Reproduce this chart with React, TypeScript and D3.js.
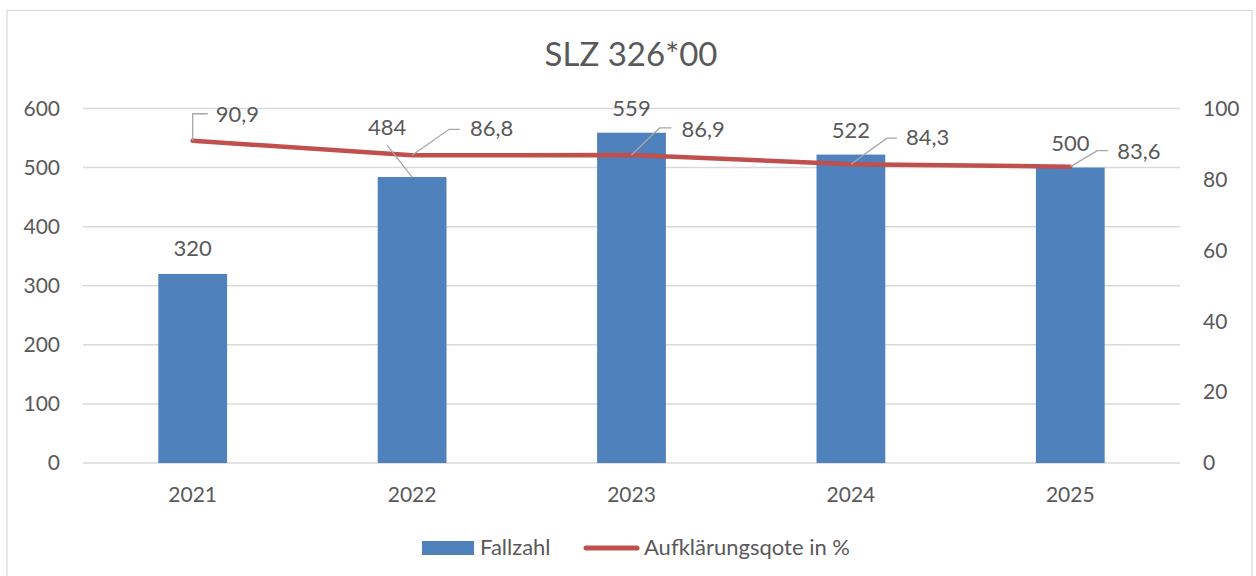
import React from 'react';
import * as d3 from 'd3';

// chart data
const years: string[] = ['2021', '2022', '2023', '2024', '2025'];
const fallzahl: number[] = [320, 484, 559, 522, 500];
const quote: number[] = [90.9, 86.8, 86.9, 84.3, 83.6];
const leftTicks: number[] = [0, 100, 200, 300, 400, 500, 600];
const rightTicks: number[] = [0, 20, 40, 60, 80, 100];

// label placement (layout only): offsets from the mark
const barLabelOffset = [
    { dx: 0, dy: -18, leader: false },
    { dx: -25, dy: -42, leader: true },
    { dx: 0, dy: -17, leader: false },
    { dx: 0, dy: -17, leader: false },
    { dx: 0, dy: -17, leader: false },
];
const lineLabelOffset = [
    { ex: 0, ey: -27, hx: 15, tx: 23, ty: -19 },
    { ex: 37, ey: -26, hx: 48, tx: 58, ty: -19 },
    { ex: 28, ey: -27, hx: 40, tx: 50, ty: -18 },
    { ex: 36, ey: -26, hx: 46, tx: 55, ty: -19 },
    { ex: 27, ey: -16, hx: 38, tx: 47, ty: -8 },
];

const WIDTH = 1256;
const HEIGHT = 576;
const margin = { top: 108.5, right: 76, bottom: 113, left: 83 };
const FONT = 'Lato, "Noto Sans", sans-serif';
const TEXT = '#595959';
const GRID = '#d9d9d9';
const BAR = '#4f81bd';
const LINE = '#c0504d';
const LEADER = '#a6a6a6';

const fmt = (v: number) => v.toFixed(1).replace('.', ',');

function App() {
    const x = d3.scaleBand()
        .domain(years)
        .range([margin.left, WIDTH - margin.right])
        .paddingInner(0)
        .paddingOuter(0);

    const barW = x.bandwidth() / 3.19;

    const yL = d3.scaleLinear()
        .domain([0, 600])
        .range([HEIGHT - margin.bottom, margin.top]);

    const yR = d3.scaleLinear()
        .domain([0, 100])
        .range([HEIGHT - margin.bottom, margin.top]);

    const cx = (d: string) => (x(d) as number) + x.bandwidth() / 2;

    const line = d3.line<number>()
        .x((_, i) => cx(years[i]))
        .y((d) => yR(d));

    return (
        <svg width={WIDTH} height={HEIGHT}
            style={{ position: 'absolute', left: 0, top: 0, background: '#fff' }}
            fontFamily={FONT}>
            <rect x={7} y={10.5} width={1245} height={580} fill="#fff" stroke={GRID} strokeWidth={1.2} />

            <text x={631} y={66} textAnchor="middle" fontSize={33} fill={TEXT}>SLZ 326*00</text>

            {/* gridlines */}
            {leftTicks.map((t) => (
                <line key={'g' + t} x1={margin.left} x2={WIDTH - margin.right}
                    y1={yL(t)} y2={yL(t)} stroke={GRID} strokeWidth={1.5} />
            ))}

            {/* left axis */}
            {leftTicks.map((t) => (
                <text key={'l' + t} x={60} y={yL(t)} dy="0.35em" textAnchor="end"
                    fontSize={21} fill={TEXT}>{t}</text>
            ))}

            {/* right axis */}
            {rightTicks.map((t) => (
                <text key={'r' + t} x={1203} y={yR(t)} dy="0.35em" textAnchor="start"
                    fontSize={21} fill={TEXT}>{t}</text>
            ))}

            {/* x axis labels */}
            {years.map((d) => (
                <text key={'x' + d} x={cx(d)} y={502} textAnchor="middle"
                    fontSize={21} fill={TEXT}>{d}</text>
            ))}

            {/* bars */}
            {fallzahl.map((v, i) => (
                <rect key={'b' + i} x={cx(years[i]) - barW / 2} y={yL(v)}
                    width={barW} height={yL(0) - yL(v)} fill={BAR} />
            ))}

            {/* line */}
            <path d={line(quote) as string} fill="none" stroke={LINE}
                strokeWidth={4.5} strokeLinecap="round" strokeLinejoin="round" />

            {/* bar labels */}
            {fallzahl.map((v, i) => {
                const o = barLabelOffset[i];
                const bx = cx(years[i]);
                const by = yL(v);
                return (
                    <g key={'bl' + i}>
                        {o.leader && (
                            <line x1={bx + o.dx} y1={by + o.dy + 10} x2={bx} y2={by}
                                stroke={LEADER} strokeWidth={1.3} />
                        )}
                        <text x={bx + o.dx} y={by + o.dy} textAnchor="middle"
                            fontSize={22} fill={TEXT}>{v}</text>
                    </g>
                );
            })}

            {/* line labels */}
            {quote.map((v, i) => {
                const o = lineLabelOffset[i];
                const px = cx(years[i]);
                const py = yR(v);
                return (
                    <g key={'ll' + i}>
                        <polyline
                            points={`${px},${py} ${px + o.ex},${py + o.ey} ${px + o.hx},${py + o.ey}`}
                            fill="none" stroke={LEADER} strokeWidth={1.3} />
                        <text x={px + o.tx} y={py + o.ty} fontSize={22} fill={TEXT}>{fmt(v)}</text>
                    </g>
                );
            })}

            {/* legend */}
            <rect x={422} y={541} width={52} height={14} fill={BAR} />
            <text x={480} y={555} fontSize={22} fill={TEXT}>Fallzahl</text>
            <line x1={586} x2={637} y1={548} y2={548} stroke={LINE} strokeWidth={5} strokeLinecap="round" />
            <text x={644} y={555} fontSize={22} fill={TEXT}>Aufklärungsqote in %</text>
        </svg>
    );
}

export default App;
